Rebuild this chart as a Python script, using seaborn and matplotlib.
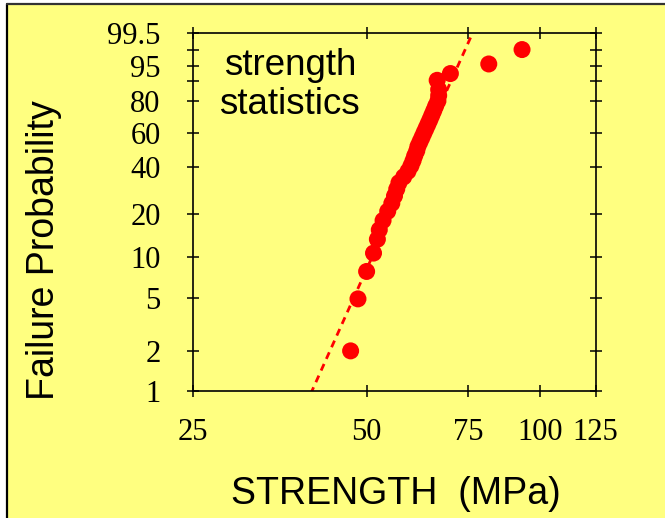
import numpy as np
import pandas as pd
import matplotlib
matplotlib.use('Agg')
import matplotlib.pyplot as plt
import seaborn as sns
from matplotlib.patches import Rectangle
from matplotlib.lines import Line2D
from matplotlib.ticker import FixedLocator, NullLocator, FixedFormatter

# measured strengths (MPa), sorted, and their failure probabilities (%)
strength = [46.9, 48.3, 50.0, 51.4, 52.2, 52.6, 53.4, 54.4, 55.3, 55.9,
            56.4, 56.9, 58.0, 59.0, 59.7, 60.2, 60.6, 61.1, 61.4, 61.9,
            62.4, 62.9, 63.4, 63.9, 64.4, 64.9, 65.4, 65.9, 66.5, 66.7,
            66.7, 66.3, 69.9, 81.5, 93.1]
failure_prob = [2.0, 4.9, 7.8, 10.6, 13.3, 15.5, 18.0, 20.8, 23.5, 26.3,
                29.1, 31.9, 34.7, 37.5, 40.4, 43.2, 46.0, 48.9, 51.7, 54.5,
                57.3, 60.2, 63.0, 65.8, 68.6, 71.5, 74.3, 77.1, 80.0, 83.0,
                86.0, 90.1, 92.6, 95.4, 98.1]

# Weibull fit shown as dashed line
weibull_m = 9.76
weibull_s0 = 64.4

x_ticks = [25, 50, 75, 100, 125]
y_ticks = [1, 2, 5, 10, 20, 40, 60, 80, 90, 95, 98, 99.5]
y_tick_labels = ['1', '2', '5', '10', '20', '40', '60', '80', '', '95', '', '99.5']

df = pd.DataFrame({'strength': strength, 'prob': failure_prob})


def weibull_fwd(p):
    p = np.asarray(p, dtype=float)
    with np.errstate(divide='ignore', invalid='ignore'):
        return np.log(-np.log(1 - p / 100.0))


def weibull_inv(w):
    w = np.asarray(w, dtype=float)
    return 100.0 * (1 - np.exp(-np.exp(w)))


sns.set_style('ticks')
plt.rcParams['font.family'] = ['Liberation Sans', 'DejaVu Sans']
plt.rcParams['text.color'] = 'black'
plt.rcParams['axes.labelcolor'] = 'black'

yellow = '#FFFF80'
fig = plt.figure(figsize=(6.65, 5.18), dpi=100)
fig.patch.set_facecolor('white')
fig.add_artist(Rectangle((7 / 665, 0), 1, 1 - 4 / 518, transform=fig.transFigure,
                         facecolor=yellow, edgecolor='none', zorder=-2))
fig.add_artist(Line2D([7 / 665, 7 / 665], [0, 1 - 4 / 518], transform=fig.transFigure,
                      color='black', lw=1.6, zorder=-1))
fig.add_artist(Line2D([7 / 665, 1], [1 - 4 / 518, 1 - 4 / 518], transform=fig.transFigure,
                      color='#333333', lw=1.6, zorder=-1))

ax = fig.add_axes([0.2907, 0.2457, 0.6051, 0.6906])
ax.set_facecolor('none')
ax.set_xscale('log')
ax.set_yscale('function', functions=(weibull_fwd, weibull_inv))

# fit line
xf = np.linspace(36, 82, 200)
pf = 100.0 * (1 - np.exp(-(xf / weibull_s0) ** weibull_m))
ax.plot(xf, pf, color='red', lw=2, dashes=(2.6, 2.0), zorder=2)

sns.scatterplot(data=df, x='strength', y='prob', ax=ax, color='red', s=150,
                edgecolor='none', linewidth=0, zorder=3, legend=False)

ax.set_xlim(25, 125)
ax.set_ylim(1, 99.5)
ax.xaxis.set_major_locator(FixedLocator(x_ticks))
ax.xaxis.set_major_formatter(FixedFormatter([str(t) for t in x_ticks]))
ax.xaxis.set_minor_locator(NullLocator())
ax.yaxis.set_major_locator(FixedLocator(y_ticks))
ax.yaxis.set_major_formatter(FixedFormatter(y_tick_labels))
ax.yaxis.set_minor_locator(NullLocator())

for sp in ax.spines.values():
    sp.set_linewidth(1.2)
    sp.set_color('black')
ax.tick_params(axis='both', which='major', direction='inout', length=8, width=1.1,
               color='black', labelcolor='black', top=True, right=True)
ax.tick_params(axis='y', pad=19.5)
ax.tick_params(axis='x', pad=15.5)
for lab in ax.get_xticklabels() + ax.get_yticklabels():
    lab.set_fontfamily('Liberation Serif')
    lab.set_fontsize(22)

ax.set_xlabel('STRENGTH  (MPa)', fontsize=27, va='center', color='black')
ax.xaxis.set_label_coords(0.504, -0.289)
ax.set_ylabel('Failure Probability', fontsize=27, va='center', color='black')
ax.yaxis.set_label_coords(-0.372, 0.393)

ax.text(0.24, 0.855, 'strength\nstatistics', transform=ax.transAxes, fontsize=26.5,
        ha='center', va='center', linespacing=1.15, color='black')

fig.savefig('out.png', dpi=100, facecolor=fig.get_facecolor())
